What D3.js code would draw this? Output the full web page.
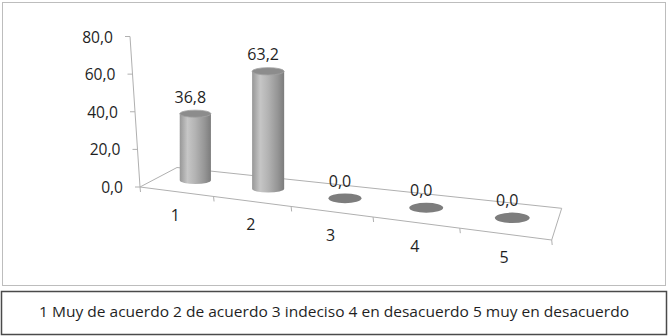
<!DOCTYPE html>
<html>
<head>
<meta charset="utf-8">
<script src="https://cdn.jsdelivr.net/npm/d3@7"></script>
<style>
  body { margin: 0; background: #fff; }
  text { font-family: "Open Sans", sans-serif; fill: #1f1f1f; }
</style>
</head>
<body>
<div id="chart"></div>
<script>
const categories = ["1", "2", "3", "4", "5"];
const values = [36.8, 63.2, 0.0, 0.0, 0.0];
const yTicks = [0, 20, 40, 60, 80];
const legendText = "1 Muy de acuerdo 2 de acuerdo 3 indeciso 4 en desacuerdo 5 muy en desacuerdo";

const width = 668;
const height = 336;

const svg = d3.select("#chart").append("svg")
  .attr("width", width)
  .attr("height", height);

const fmt = d3.formatLocale({ decimal: ",", thousands: ".", grouping: [3], currency: ["", ""] }).format(".1f");

// outer boxes
svg.append("rect")
  .attr("x", 2.5).attr("y", 2.5).attr("width", 663).attr("height", 283)
  .attr("fill", "#fff").attr("stroke", "#bdbdbd");
svg.append("rect")
  .attr("x", 1.5).attr("y", 291.5).attr("width", 665).attr("height", 43)
  .attr("fill", "#fff").attr("stroke", "#4a4a4a").attr("stroke-width", 1.5);

// fake 3d floor, with a bit of perspective towards the right
const k = 0.13;
const persp = (u) => (u * (1 - k)) / (1 - k * u);
const frontL = [140, 187], frontR = [551.7, 240];
const backL = [177, 167.5], backR = [561.7, 208.3];
const lerp = (a, b, t) => [a[0] + (b[0] - a[0]) * t, a[1] + (b[1] - a[1]) * t];
function floorPt(u, w) {
  const p = persp(u);
  return lerp(lerp(frontL, frontR, p), lerp(backL, backR, p), w);
}

const x = d3.scaleBand().domain(categories).range([0, 1]);
const y = d3.scaleLinear().domain([0, 80]).range([187, 36.5]);
const axisX = d3.scaleLinear().domain([0, 80]).range([140, 130]);

const lineColor = "#b0b0b0";

// floor outline
svg.append("path")
  .attr("d", d3.line()([frontL, frontR, backR, backL, frontL]))
  .attr("fill", "none").attr("stroke", lineColor);

// category ticks
const bounds = categories.map((c) => x(c)).concat([1]);
svg.selectAll(".xtick").data(bounds).enter().append("line")
  .attr("class", "xtick")
  .attr("x1", (u) => floorPt(u, 0)[0]).attr("y1", (u) => floorPt(u, 0)[1])
  .attr("x2", (u) => floorPt(u, 0)[0] + 0.5).attr("y2", (u) => floorPt(u, 0)[1] + 5)
  .attr("stroke", lineColor);

svg.selectAll(".xlabel").data(categories).enter().append("text")
  .attr("class", "xlabel")
  .attr("x", (c) => floorPt(x(c) + x.bandwidth() / 2, 0)[0] - 1)
  .attr("y", (c) => floorPt(x(c) + x.bandwidth() / 2, 0)[1] + 23)
  .attr("text-anchor", "middle")
  .attr("dominant-baseline", "central")
  .style("font-size", "16px")
  .text((c) => c);

// value axis (slightly tilted)
svg.append("line")
  .attr("x1", axisX(0)).attr("y1", y(0))
  .attr("x2", axisX(80)).attr("y2", y(80))
  .attr("stroke", lineColor);

svg.selectAll(".ytick").data(yTicks).enter().append("line")
  .attr("class", "ytick")
  .attr("x1", (d) => axisX(d)).attr("y1", (d) => y(d))
  .attr("x2", (d) => axisX(d) - 5).attr("y2", (d) => y(d))
  .attr("stroke", lineColor);

svg.selectAll(".ylabel").data(yTicks).enter().append("text")
  .attr("class", "ylabel")
  .attr("x", (d) => axisX(d) - 17)
  .attr("y", (d) => y(d))
  .attr("text-anchor", "end")
  .attr("dominant-baseline", "central")
  .style("font-size", "15.6px")
  .text((d) => fmt(d));

// cylinder shading
const grad = svg.append("defs").append("linearGradient")
  .attr("id", "cyl").attr("x1", "0%").attr("x2", "100%").attr("y1", "0%").attr("y2", "0%");
[["0%", "#979797"], ["25%", "#c6c6c6"], ["50%", "#b3b3b3"], ["80%", "#959595"], ["100%", "#7c7c7c"]]
  .forEach(([o, c]) => grad.append("stop").attr("offset", o).attr("stop-color", c));

const bars = categories.map((c, i) => {
  const u = x(c) + x.bandwidth() / 2;
  const base = floorPt(u, 0.55);
  const rx = 15.4 / (1 - k * u);
  const ry = rx * 0.23;
  const h = (y(0) - y(values[i])) * 0.95 / (1 - k * u);
  return { c, v: values[i], cx: base[0], yb: base[1], yt: base[1] - h, rx, ry };
});

const g = svg.append("g");

g.selectAll(".body").data(bars.filter((d) => d.v > 0)).enter().append("path")
  .attr("class", "body")
  .attr("d", (d) =>
    `M${d.cx - d.rx},${d.yt} L${d.cx - d.rx},${d.yb} ` +
    `A${d.rx},${d.ry} 0 0 0 ${d.cx + d.rx},${d.yb} L${d.cx + d.rx},${d.yt} Z`)
  .attr("fill", "url(#cyl)");

g.selectAll(".top").data(bars).enter().append("ellipse")
  .attr("class", "top")
  .attr("cx", (d) => d.cx).attr("cy", (d) => (d.v > 0 ? d.yt : d.yt + 0.5))
  .attr("rx", (d) => d.rx).attr("ry", (d) => (d.v > 0 ? d.ry : d.ry * 1.3))
  .attr("fill", (d) => (d.v > 0 ? "#8c8c8c" : "#7d7d7d"))
  .attr("stroke", (d) => (d.v > 0 ? "#a2a2a2" : "none"))
  .attr("stroke-width", 0.8);

g.selectAll(".vlabel").data(bars).enter().append("text")
  .attr("class", "vlabel")
  .attr("x", (d) => d.cx - 5)
  .attr("y", (d) => d.yt - 17)
  .attr("text-anchor", "middle")
  .attr("dominant-baseline", "central")
  .style("font-size", "16px")
  .text((d) => fmt(d.v));

// legend line
svg.append("text")
  .attr("x", 334).attr("y", 311)
  .attr("text-anchor", "middle")
  .attr("dominant-baseline", "central")
  .attr("textLength", 590)
  .attr("lengthAdjust", "spacingAndGlyphs")
  .style("font-size", "15px")
  .text(legendText);
</script>
</body>
</html>
